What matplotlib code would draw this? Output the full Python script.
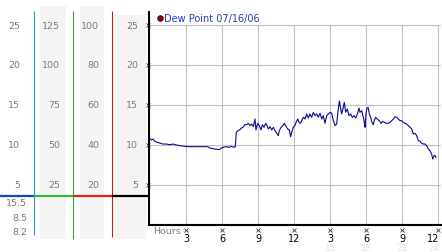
import matplotlib
matplotlib.use('Agg')
import matplotlib.pyplot as plt
from matplotlib.lines import Line2D

# Dew point readings (hours since midnight, value)
hours = [0.0, 0.11, 0.25, 0.39, 0.61, 0.81, 1.08, 1.36, 1.64, 1.92, 2.19, 2.47, 2.89, 3.31,
         3.72, 4.14, 4.56, 4.83, 4.97, 5.25, 5.53, 5.81, 5.89, 6.08, 6.36, 6.56, 6.78, 7.0,
         7.11, 7.19, 7.33, 7.47, 7.61, 7.75, 7.89,
         8.06, 8.19, 8.33, 8.47, 8.61, 8.75, 8.83, 8.97, 9.11, 9.25, 9.36, 9.5, 9.64, 9.75,
         9.86, 10.0, 10.14, 10.28, 10.42, 10.56, 10.69, 10.78, 10.92, 11.06, 11.19, 11.31,
         11.47, 11.61, 11.72, 11.81, 11.94, 12.08, 12.17, 12.31, 12.42, 12.53, 12.64, 12.78,
         12.92, 13.06, 13.19, 13.33, 13.47, 13.61, 13.75, 13.89, 14.03, 14.17, 14.31, 14.44,
         14.58, 14.72, 14.86, 15.0, 15.14, 15.28, 15.42, 15.56, 15.64, 15.78,
         15.97, 16.11, 16.19, 16.31, 16.44, 16.58, 16.72, 16.86, 17.0, 17.14, 17.28, 17.42,
         17.5, 17.64, 17.78, 17.86, 17.92, 18.0, 18.08, 18.17, 18.28, 18.39, 18.5, 18.61,
         18.69, 18.81, 18.94, 19.11, 19.25, 19.39, 19.53, 19.67, 19.86, 20.0, 20.14, 20.28,
         20.42, 20.56, 20.69, 20.83, 20.97, 21.11, 21.25, 21.39, 21.53, 21.67, 21.81, 21.94,
         22.08, 22.22, 22.36, 22.5, 22.64, 22.78, 22.92, 23.06, 23.19, 23.33, 23.47, 23.56,
         23.67, 23.75, 23.83]
dew_point = [10.75, 10.62, 10.75, 10.46, 10.33, 10.25, 10.12, 10.12, 10.04, 10.12, 10.0, 9.92,
             9.83, 9.79, 9.79, 9.79, 9.79, 9.79, 9.62, 9.54, 9.46, 9.42, 9.58, 9.71, 9.79,
             9.71, 9.83, 9.71, 9.79, 11.58, 11.79, 11.88, 12.12, 12.21, 12.54,
             12.54, 12.71, 12.42, 12.63, 12.29, 13.25, 11.88, 12.71, 12.42, 11.88, 12.54, 12.21,
             12.71, 12.42, 12.0, 12.29, 11.88, 12.21, 11.79, 11.46, 11.17, 11.79, 12.21, 12.42,
             12.71, 12.42, 12.0, 11.88, 11.04, 11.58, 12.21, 12.42, 12.83, 13.25, 12.83, 12.71,
             13.04, 13.46, 13.25, 13.88, 13.38, 13.88, 13.46, 14.08, 13.67, 13.88, 13.46, 13.96,
             13.25, 13.67, 12.71, 13.67, 13.88, 14.08, 13.96, 13.04, 12.42, 12.63, 13.88, 15.5,
             13.88, 14.71, 15.33, 14.08, 14.5, 13.67, 13.88, 13.46, 13.67, 13.38, 13.88, 14.62,
             14.08, 14.29, 13.46, 12.83, 12.21, 13.88, 14.62, 14.71, 13.88, 13.46, 12.83, 12.54,
             13.04, 13.46, 13.25, 13.04, 12.71, 12.96, 12.83, 12.71, 12.71, 12.83, 13.04, 13.25,
             13.54, 13.46, 13.25, 13.04, 13.04, 12.83, 12.71, 12.62, 12.42, 12.21, 12.0, 11.38,
             11.46, 11.17, 10.54, 10.46, 10.21, 10.12, 10.12, 9.92, 9.5, 9.29, 8.88, 8.25,
             8.67, 8.67, 8.46]

hour_ticks = [3, 6, 9, 12, 15, 18, 21, 24]
hour_labels = ['3', '6', '9', '12', '3', '6', '9', '12']
hour_labels_24 = ['', '', '', '', '15', '18', '21', '24']
value_ticks = [5, 10, 15, 20, 25]

# scale columns on the left
scale_a = ['25', '20', '15', '10', '5']
scale_b = ['125', '100', '75', '50', '25']
scale_c = ['100', '80', '60', '40', '20']
scale_d = ['25', '20', '15', '10', '5']
readings = ['15.5', '8.5', '8.2']

W, H = 442, 253
gray = '#7a7a7a'


def rect(x0, y0, x1, y1):
    return [x0 / W, 1 - y1 / H, (x1 - x0) / W, (y1 - y0) / H]


fig = plt.figure(figsize=(W / 100, H / 100), dpi=100)
plt.rcParams['font.family'] = ['DejaVu Sans']

# left panel with the scales
axl = fig.add_axes([0, 0, 149 / W, 1])
axl.set_xlim(0, 149)
axl.set_ylim(-27 / 8, 226 / 8)
axl.axis('off')
for x0, x1, top in [(40, 66, 27.4), (80, 104, 27.4), (115, 146, 26.25)]:
    axl.fill_between([x0, x1], -1.75, top, color='#f4f4f4', lw=0)
axl.vlines([33.5, 72.5, 111.5], [-1.2, -1.75, -1.5], 26.75,
           colors=['#3399dd', '#33aa33', '#aa2222'], lw=0.8)
seg_x = [0, 33.5, 72.5, 111.5, 149]
seg_colors = ['#1144cc', '#33bb33', '#dd2222', 'black']
axl.hlines([3.625] * 4, seg_x[:-1], seg_x[1:], colors=seg_colors, lw=1.6)
for xr, labels in [(20, scale_a), (60, scale_b), (99, scale_c), (138, scale_d)]:
    for v, s in zip(value_ticks[::-1], labels):
        axl.text(xr, v, s, ha='right', va='center', fontsize=6.8, color=gray)
for i, s in enumerate(readings):
    axl.text(27, 2.75 - i * 1.8, s, ha='right', va='center', fontsize=6.8, color=gray)

# main chart
ax = fig.add_axes(rect(149, 13, 441, 226))
ax.set_xlim(-1 / 12, 24.25)
ax.set_ylim(0, 26.625)
for s in ['top', 'right']:
    ax.spines[s].set_visible(False)
for s in ['left', 'bottom']:
    ax.spines[s].set_linewidth(1.5)
ax.hlines(value_ticks, -1 / 12, 24.25, color='#c0c0c0', lw=0.8, zorder=0)
ax.vlines(hour_ticks, 0, 25, color='#c0c0c0', lw=0.8, zorder=0)

ax.plot(hours, dew_point, color='#0a0a99', lw=0.8)

ax.set_xticks([])
ax.set_yticks([])
ax.plot([-0.15] * len(value_ticks), value_ticks, 'x', color='#333333', ms=2.2, mew=0.6, clip_on=False)
ax.plot(hour_ticks, [-0.6] * len(hour_ticks), 'x', color='#333333', ms=2.2, mew=0.6, clip_on=False)
for i, (h, s, s24) in enumerate(zip(hour_ticks, hour_labels, hour_labels_24)):
    last = i == len(hour_ticks) - 1
    ax.text(h + (0.1 if last else 0), -0.95, s, ha='right' if last else 'center', va='top',
            fontsize=7, color='black')
    ax.text(h + (0.1 if last else 0), -2.3, s24, ha='right' if last else 'center', va='top',
            fontsize=6.3, color='#e2e2e2')
ax.text(0.25, -0.75, 'Hours', ha='left', va='center', fontsize=6.8, color=gray)

handle = Line2D([], [], marker='o', ls='none', markerfacecolor='#990000',
                markeredgecolor='#330000', markersize=4, markeredgewidth=0.6)
ax.legend([handle], ['Dew Point 07/16/06'], loc='upper left', bbox_to_anchor=(0.03, 0.995),
          frameon=False, fontsize=7, labelcolor='#1f3fbf', handlelength=0.5,
          handletextpad=0.15, borderpad=0, borderaxespad=0)

fig.savefig('out.png', dpi=100)
